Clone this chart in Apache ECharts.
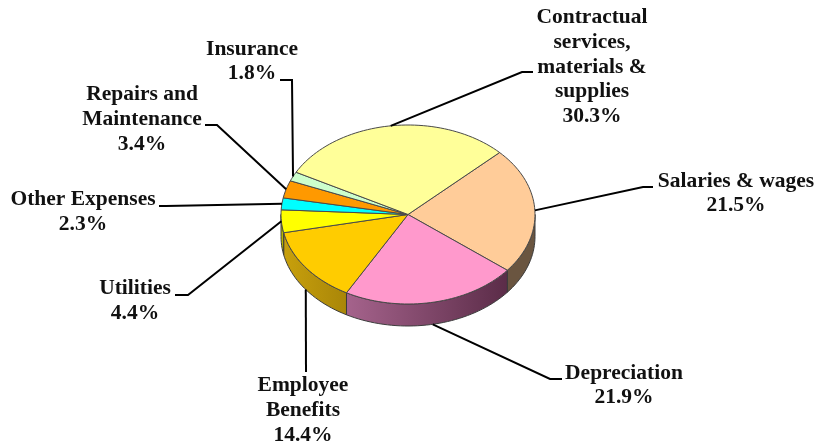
<!DOCTYPE html>
<html>
<head>
<meta charset="utf-8">
<style>html,body{margin:0;padding:0;background:#fff}#c{width:815px;height:445px}</style>
<script src="https://cdn.jsdelivr.net/npm/echarts@6/dist/echarts.min.js"></script>
</head>
<body>
<div id="c"></div>
<script>
// Data, clockwise from the Salaries / Contractual boundary
const categories = ['Salaries & wages', 'Depreciation', 'Employee Benefits', 'Utilities', 'Other Expenses', 'Repairs and Maintenance', 'Insurance', 'Contractual services, materials & supplies'];
const labelText = ['Salaries & wages', 'Depreciation', 'Employee\nBenefits', 'Utilities', 'Other Expenses', 'Repairs and\nMaintenance', 'Insurance', 'Contractual\nservices,\nmaterials &\nsupplies'];
const values = [21.5, 21.9, 14.4, 4.4, 2.3, 3.4, 1.8, 30.3];

// Styles
const topColors = ['#FFCC99', '#FF99CC', '#FFCC00', '#FFFF00', '#00FFFF', '#FF9900', '#CCFFCC', '#FFFF99'];
const sideLeft  = ['#6a5540', '#a5638c', '#c8a00c', '#c0c000', '#00a0a0', '#a86800', '#88a888', '#aaaa66'];
const sideRight = ['#6a5540', '#5b2c48', '#a98608', '#b0b000', '#009090', '#986000', '#789878', '#999955'];

// Layout
const cx = 408, cy = 214.5, rx = 127, ry = 89.5, depth = 22, startDeg = 45;
const labelCenter = [[736,193.5],[624,385.5],[303,410.5],[135,301],[83,212],[142,119.5],[252,61.5],[592,67]];
const leaderElbow = [[[653,187],[643,187]],[[562,379],[550,379]],[[306,372],[306,372]],[[175,295],[188,295]],[[159,206],[166,206]],[[205,125],[217,125]],[[280,80],[292,80]],[[533,72],[522,72]]];

// perspective foreshortening of the pie plane: angle on the page for an angle on the pie
const warp = deg => deg - 4 + 4 * Math.sin(deg * Math.PI / 180);

const total = values.reduce((a, b) => a + b, 0);
let acc = 0;
const sliceData = values.map((v, i) => {
  const a0 = warp(startDeg - acc / total * 360);
  acc += v;
  return { name: categories[i], value: [v, a0, warp(startDeg - acc / total * 360), i] };
});

const pt = (deg, dy) => {
  const r = deg * Math.PI / 180;
  return [cx + rx * Math.cos(r), cy - ry * Math.sin(r) + (dy || 0)];
};
const arc = (a0, a1, dy) => {
  const n = Math.max(2, Math.ceil(Math.abs(a1 - a0) / 2)), p = [];
  for (let k = 0; k <= n; k++) p.push(pt(a0 + (a1 - a0) * k / n, dy));
  return p;
};
// part of [a1,a0] (a0>a1) that lies on the front half, i.e. sine negative
const frontPart = (a0, a1) => {
  const hi = Math.min(a0, 0), lo = Math.max(a1, -180);
  return hi > lo ? [hi, lo] : null;
};

const option = {
  animation: false,
  backgroundColor: '#fff',
  series: [
    {
      type: 'custom',
      coordinateSystem: 'none',
      silent: true,
      data: sliceData,
      renderItem: (params, api) => {
        const a0 = api.value(1), a1 = api.value(2), i = api.value(3);
        const children = [];
        const f = frontPart(a0, a1);
        if (f) {
          const upper = arc(f[0], f[1], 0), lower = arc(f[1], f[0], depth);
          const xs = upper.map(p => p[0]);
          const xMin = Math.min(...xs), xMax = Math.max(...xs);
          children.push({
            type: 'polygon',
            shape: { points: upper.concat(lower) },
            style: {
              fill: new echarts.graphic.LinearGradient(xMin, 0, xMax, 0, [
                { offset: 0, color: sideLeft[i] }, { offset: 1, color: sideRight[i] }
              ], true),
              stroke: '#3c3c3c', lineWidth: 1
            }
          });
        }
        children.push({
          type: 'polygon',
          shape: { points: [[cx, cy]].concat(arc(a0, a1, 0)) },
          style: { fill: topColors[i], stroke: '#4a4a4a', lineWidth: 1, lineJoin: 'round' }
        });
        return { type: 'group', children };
      }
    },
    {
      type: 'custom',
      coordinateSystem: 'none',
      silent: true,
      data: sliceData,
      renderItem: (params, api) => {
        const a0 = api.value(1), a1 = api.value(2), i = api.value(3), v = api.value(0);
        const mid = (a0 + a1) / 2;
        const front = Math.sin(mid * Math.PI / 180) < -0.5;
        const anchor = pt(mid, front ? depth : 0);
        const e = leaderElbow[i];
        const c = labelCenter[i];
        return {
          type: 'group',
          children: [
            {
              type: 'polyline',
              shape: { points: [e[0], e[1], anchor] },
              style: { stroke: '#000', lineWidth: 2, fill: 'none' }
            },
            {
              type: 'text',
              x: c[0], y: c[1],
              style: {
                text: labelText[i] + '\n' + v.toFixed(1) + '%',
                fontFamily: '"Liberation Serif", serif',
                fontWeight: 'bold',
                fontSize: 21.5,
                lineHeight: 24.7,
                fill: '#111',
                align: 'center',
                verticalAlign: 'middle'
              }
            }
          ]
        };
      }
    }
  ]
};
const chart = echarts.init(document.getElementById('c'), null, { renderer: 'canvas' });
chart.setOption(option);
</script>
</body>
</html>
